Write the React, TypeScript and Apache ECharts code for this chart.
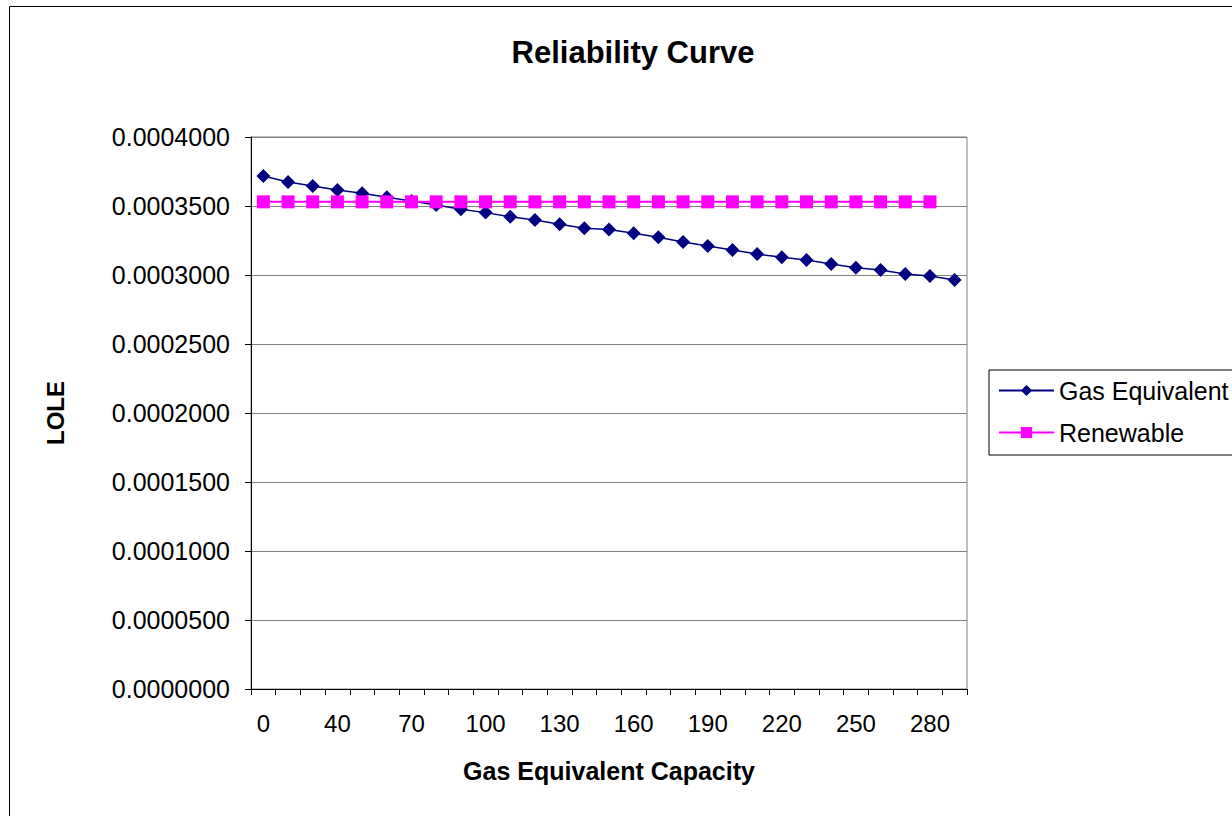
import React, { useEffect, useRef } from "react";
import * as echarts from "echarts";

const categories = [
  "0", "10", "20", "40", "50", "60", "70", "80", "90", "100",
  "110", "120", "130", "140", "150", "160", "170", "180", "190", "200",
  "210", "220", "230", "240", "250", "260", "270", "280", "290",
];

const gasEquivalent = [
  0.0003717, 0.0003674, 0.0003645, 0.0003616, 0.0003592, 0.0003563, 0.0003536, 0.0003507,
  0.0003476, 0.0003452, 0.0003422, 0.0003399, 0.0003367, 0.0003338, 0.000333, 0.0003302,
  0.0003273, 0.0003239, 0.000321, 0.0003181, 0.0003152, 0.0003128, 0.0003109, 0.000308,
  0.0003053, 0.0003036, 0.0003007, 0.0002993, 0.0002964,
];

const renewable = [
  0.000353, 0.000353, 0.000353, 0.000353, 0.000353, 0.000353, 0.000353, 0.000353,
  0.000353, 0.000353, 0.000353, 0.000353, 0.000353, 0.000353, 0.000353, 0.000353,
  0.000353, 0.000353, 0.000353, 0.000353, 0.000353, 0.000353, 0.000353, 0.000353,
  0.000353, 0.000353, 0.000353, 0.000353,
];

const FONT = "'Liberation Sans', Arial, sans-serif";

export default function App() {
  const ref = useRef<HTMLDivElement>(null);
  useEffect(() => {
    if (!ref.current) return;
    const chart = echarts.init(ref.current, null, { renderer: "svg" });
    chart.setOption({
      animation: false,
      backgroundColor: "#ffffff",
      textStyle: { fontFamily: FONT },
      title: {
        text: "Reliability Curve",
        left: 628,
        textAlign: "center",
        top: 32,
        textStyle: { fontFamily: FONT, fontSize: 31, fontWeight: "bold", color: "#000" },
      },
      graphic: [
        {
          type: "rect",
          shape: { x: 9.5, y: 6.5, width: 1400, height: 1000 },
          style: { fill: "none", stroke: "#000", lineWidth: 1 },
          silent: true,
          z: -1,
        },
      ],
      legend: {
        left: 989,
        top: 370,
        orient: "vertical",
        itemWidth: 55,
        itemHeight: 14,
        itemGap: 17,
        padding: [8, 60, 10, 9],
        borderColor: "#000",
        borderWidth: 1,
        textStyle: { fontFamily: FONT, fontSize: 25, color: "#000" },
        data: ["Gas Equivalent", "Renewable"],
      },
      grid: { left: 251, right: 265, top: 137, bottom: 127, show: true, borderColor: "#808080", borderWidth: 1 },
      xAxis: {
        type: "category",
        data: categories,
        boundaryGap: true,
        name: "Gas Equivalent Capacity",
        nameLocation: "middle",
        nameGap: 69,
        nameTextStyle: { fontFamily: FONT, fontSize: 25, fontWeight: "bold", color: "#000" },
        axisLine: { lineStyle: { color: "#000", width: 1 } },
        axisTick: { show: true, interval: 0, length: 6, lineStyle: { color: "#000" } },
        axisLabel: { interval: 2, fontFamily: FONT, fontSize: 24, color: "#000", margin: 22 },
        splitLine: { show: false },
      },
      yAxis: {
        type: "value",
        min: 0,
        max: 0.0004,
        interval: 0.00005,
        name: "LOLE",
        nameLocation: "middle",
        nameGap: 184,
        nameRotate: 90,
        nameTextStyle: { fontFamily: FONT, fontSize: 24, fontWeight: "bold", color: "#000" },
        axisLine: { show: true, lineStyle: { color: "#000", width: 1 } },
        axisTick: { show: true, length: 6, lineStyle: { color: "#000" } },
        axisLabel: {
          fontFamily: FONT,
          fontSize: 25,
          color: "#000",
          margin: 21,
          formatter: (v: number) => v.toFixed(7),
        },
        splitLine: { show: true, lineStyle: { color: "#808080", width: 1 } },
      },
      series: [
        {
          name: "Gas Equivalent",
          type: "line",
          data: gasEquivalent,
          symbol: "diamond",
          symbolSize: 14,
          showAllSymbol: true,
          itemStyle: { color: "#000080" },
          lineStyle: { color: "#000080", width: 1.5 },
          z: 3,
        },
        {
          name: "Renewable",
          type: "line",
          data: renewable,
          symbol: "rect",
          symbolSize: 13,
          showAllSymbol: true,
          itemStyle: { color: "#FF00FF" },
          lineStyle: { color: "#FF00FF", width: 2 },
          z: 4,
        },
      ],
    });
    return () => chart.dispose();
  }, []);
  return (
    <div
      ref={ref}
      style={{ position: "fixed", left: 0, top: 0, width: 1232, height: 816 }}
    />
  );
}
